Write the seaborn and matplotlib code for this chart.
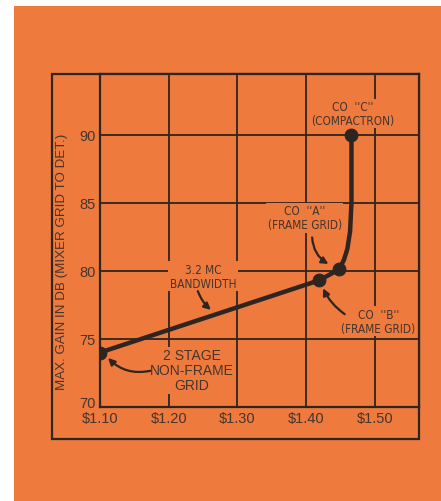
import matplotlib
matplotlib.use('Agg')
import matplotlib.pyplot as plt
import matplotlib.transforms as mtransforms
from matplotlib.patches import Rectangle
import seaborn as sns
import pandas as pd

# Data
cost = [1.10, 1.419, 1.448, 1.455, 1.460, 1.464, 1.466, 1.466, 1.466]   # $ per set
gain = [74.0, 79.3, 80.1, 80.8, 81.6, 82.9, 85.0, 87.5, 90.0]          # dB

point_names = ['2 STAGE', 'CO B', 'CO A', 'CO C']
point_cost = [1.10, 1.419, 1.448, 1.466]
point_gain = [74.0, 79.3, 80.1, 90.0]

x_ticks = [1.10, 1.20, 1.30, 1.40, 1.50]
x_labels = ['$1.10', '$1.20', '$1.30', '$1.40', '$1.50']
y_ticks = [70, 75, 80, 85, 90]

orange = '#ee7a3e'
ink = '#2e2420'
text_col = '#45352d'

sns.set_theme(style='white')
plt.rcParams['font.family'] = ['Liberation Sans', 'DejaVu Sans']

fig = plt.figure(figsize=(4.41, 5.02), dpi=100, facecolor='white')
fig.patches.append(Rectangle((14 / 441, 0), 1, (502 - 7) / 502, transform=fig.transFigure,
                             facecolor=orange, edgecolor='none', zorder=-2))
fig.patches.append(Rectangle((52 / 441, (502 - 440) / 502), 367 / 441, 365 / 502,
                             transform=fig.transFigure, facecolor='none',
                             edgecolor=ink, linewidth=1.6, zorder=-1))

ax = fig.add_axes([100 / 441, (502 - 408) / 502, 319 / 441, 333 / 502])
ax.set_facecolor(orange)

line_df = pd.DataFrame({'cost': cost, 'gain': gain})
pts_df = pd.DataFrame({'cost': point_cost, 'gain': point_gain, 'name': point_names})

sns.lineplot(data=line_df, x='cost', y='gain', sort=False, estimator=None,
             color=ink, linewidth=3.2, ax=ax, zorder=4)
sns.scatterplot(data=pts_df, x='cost', y='gain', color=ink, s=85, edgecolor=ink,
                ax=ax, zorder=5, legend=False)

ax.set_xlim(1.10, 1.5643)
ax.set_ylim(70, 94.45)
ax.set_xticks(x_ticks)
ax.set_xticklabels(x_labels)
ax.set_yticks(y_ticks)
ax.grid(True, color=ink, linewidth=1.3)
for s in ax.spines.values():
    s.set_color(ink)
    s.set_linewidth(1.6)
ax.tick_params(length=0, labelsize=10.5, labelcolor=text_col, pad=3)
ax.set_xlabel('')
ax.set_ylabel('MAX. GAIN IN DB (MIXER GRID TO DET.)', fontsize=9.6, color=text_col)
ax.yaxis.set_label_coords(-0.10, 0.44)

# lift the "70" label a little so it sits above the dollar labels
lbl70 = ax.get_yticklabels()[0]
lbl70.set_transform(lbl70.get_transform() +
                    mtransforms.ScaledTranslation(0, 4 / 72, fig.dpi_scale_trans))

box = dict(facecolor=orange, edgecolor='none', pad=1.0)
tkw = dict(ha='center', va='center', fontsize=8.5, color=text_col,
           family='DejaVu Sans', fontstretch='condensed',
           linespacing=1.1, bbox=box, zorder=3)
akw = dict(arrowstyle='-|>', color=ink, lw=1.6, mutation_scale=10)

ax.text(1.468, 91.55, "CO  ''C''\n(COMPACTRON)", **tkw)
ax.text(1.250, 79.6, '3.2 MC\nBANDWIDTH', **tkw)
ax.text(1.234, 72.7, '2 STAGE\nNON-FRAME\nGRID',
        **dict(tkw, fontsize=10, family='Liberation Sans', fontstretch='normal'))
ax.text(1.398, 83.9, "CO  ''A''\n(FRAME GRID)", **tkw)
ax.text(1.505, 76.3, "CO  ''B''\n(FRAME GRID)", **tkw)

ax.annotate('', xy=(1.2645, 77.0), xytext=(1.241, 78.7),
            arrowprops=dict(akw, connectionstyle='arc3,rad=0.15'))
ax.annotate('', xy=(1.109, 73.75), xytext=(1.177, 72.7),
            arrowprops=dict(akw, connectionstyle='arc3,rad=-0.3'))
ax.annotate('', xy=(1.436, 80.4), xytext=(1.4086, 82.65),
            arrowprops=dict(akw, connectionstyle='arc3,rad=0.3'))
ax.annotate('', xy=(1.423, 78.9), xytext=(1.4595, 76.7),
            arrowprops=dict(akw, connectionstyle='arc3,rad=-0.15'))

fig.savefig('out.png', dpi=100, facecolor='white')
